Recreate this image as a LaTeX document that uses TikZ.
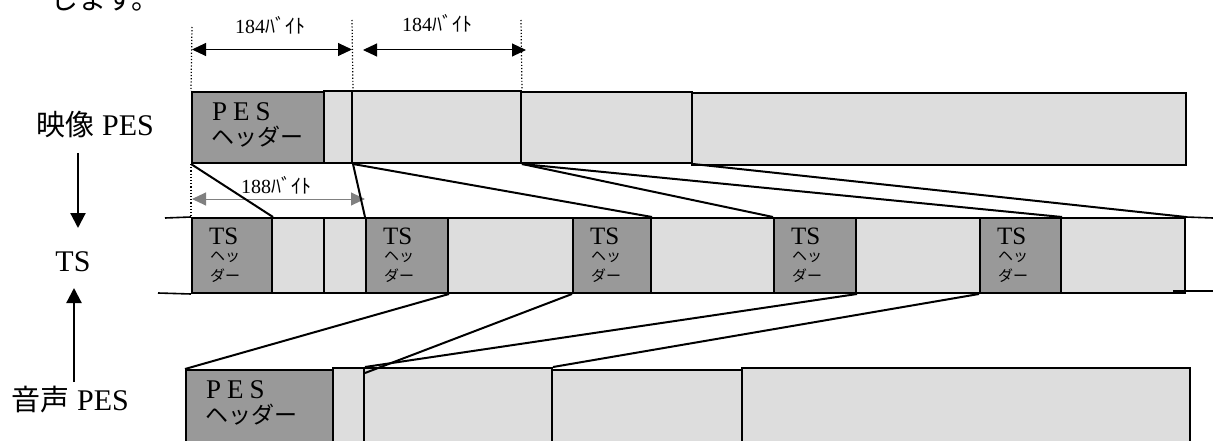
\documentclass[tikz,border=0pt]{standalone}
\usepackage{fontspec}
\setmainfont{Liberation Serif}
\newfontfamily\jp{Noto Sans CJK JP}
\usetikzlibrary{arrows.meta,calc,fit}
\definecolor{hdr}{RGB}{153,153,153}
\definecolor{pay}{RGB}{221,221,221}
\tikzset{
 bx/.style={draw=black, line width=2pt, inner sep=0pt},
 hdrbox/.style={bx, fill=hdr},
 paybox/.style={bx, fill=pay},
 map/.style={line width=2pt},
 dimline/.style={line width=1pt, {Triangle[length=14pt,width=13pt]}-{Triangle[length=14pt,width=13pt]}},
 guide/.style={dotted, line width=1.2pt},
 varrow/.style={line width=2.2pt, -{Triangle[length=15pt,width=15pt]}},
 lbl/.style={font=\fontsize{30}{34}\selectfont, inner sep=0pt},
 dimlbl/.style={font=\fontsize{20}{22}\selectfont, inner sep=0pt},
 intxt/.style={inner sep=0pt, anchor=west},
}
\newcommand\mkbox[6]{\node[#1, fit={(#3,#4)(#5,#6)}] (#2) {};}
\newcommand\tstext[1]{%
 \node[intxt, font=\fontsize{25}{25}\selectfont] at ($(#1.west)+(18,-19.5)$) {TS};
 \node[intxt, font=\jp\fontsize{15}{15}\selectfont] at ($(#1.west)+(19,2)$) {ヘッ};
 \node[intxt, font=\jp\fontsize{15}{15}\selectfont] at ($(#1.west)+(19,20.5)$) {ダー};}
\newcommand\pestext[1]{%
 \node[intxt, font=\fontsize{27}{27}\selectfont] at ($(#1.north west)+(21,21)$) {P\kern6pt E\kern6pt S};
 \node[intxt, font=\jp\fontsize{23}{23}\selectfont] at ($(#1.north west)+(20,46)$) {ヘッダー};}
\begin{document}
\begin{tikzpicture}[x=1pt,y=-1pt]
\useasboundingbox (0,0) rectangle (1213,441);
\clip (0,0) rectangle (1213,441);
% top text
\node[anchor=base west, inner sep=0pt, font=\jp\fontsize{28}{28}\selectfont] (top) at (50,10) {します。};
% video PES
\mkbox{hdrbox}{vh}{192}{92}{324}{163}
\mkbox{paybox}{v2}{324}{91}{352}{163}
\mkbox{paybox}{v3}{352}{91}{521}{163}
\mkbox{paybox}{v4}{521}{92}{692}{163}
\mkbox{paybox}{v5}{692}{93}{1186}{165}
\pestext{vh}
% TS row
\mkbox{hdrbox}{t1h}{192}{218}{272}{293}
\mkbox{paybox}{t1a}{272}{218}{324}{293}
\mkbox{paybox}{t1b}{324}{218}{366}{293}
\mkbox{hdrbox}{t2h}{366}{218}{448}{293}
\mkbox{paybox}{t2p}{448}{218}{573}{293}
\mkbox{hdrbox}{t3h}{573}{218}{651}{293}
\mkbox{paybox}{t3p}{651}{218}{774}{293}
\mkbox{hdrbox}{t4h}{774}{218}{856}{293}
\mkbox{paybox}{t4p}{856}{218}{980}{293}
\mkbox{hdrbox}{t5h}{980}{218}{1061}{293}
\mkbox{paybox}{t5p}{1061}{218}{1185}{293}
\tstext{t1h}\tstext{t2h}\tstext{t3h}\tstext{t4h}\tstext{t5h}
\coordinate (tsTL) at (165,218);
\coordinate (tsBL) at (158,293);
\coordinate (tsTR) at (1213,218);
\coordinate (tsBRa) at (1173,291);
\coordinate (tsBRb) at (1213,291);
\draw[line width=1.6pt] (tsTL) -- (t1h.north west);
\draw[line width=1.6pt] (tsBL) -- (t1h.south west);
\draw[line width=1.6pt] (t5p.north east) -- (tsTR);
\draw[line width=1.6pt] (tsBRa) -- (tsBRb);
% audio PES
\mkbox{hdrbox}{ah}{186}{370}{333}{460}
\mkbox{paybox}{a2}{333}{368}{364}{460}
\mkbox{paybox}{a3}{364}{368}{552}{460}
\mkbox{paybox}{a4}{552}{370}{742}{460}
\mkbox{paybox}{a5}{742}{368}{1190}{460}
\pestext{ah}
% left labels
\node[lbl] (vidlbl) at (95,125) {{\jp\fontsize{29}{29}\selectfont 映像}\hspace{8pt}PES};
\node[lbl] (tslbl) at (73,262) {TS};
\node[lbl] (audlbl) at (70,400) {{\jp\fontsize{29}{29}\selectfont 音声}\hspace{8pt}PES};
\coordinate (dnA) at (78,153);
\coordinate (dnB) at (78,228);
\coordinate (upA) at (74,382);
\coordinate (upB) at (74,288);
\draw[varrow] (dnA) -- (dnB);
\draw[varrow] (upA) -- (upB);
% dimensions
\coordinate (g1) at (192,27);
\coordinate (g2) at (352,20);
\coordinate (g3) at (521,20);
\draw[guide] (g1) -- (vh.north west);
\draw[guide] (g2) -- (v2.north east);
\draw[guide] (g3) -- (v3.north east);
\draw[guide] (vh.south west) -- (t1h.north west);
\coordinate (d1a) at (192,49.5);
\coordinate (d1b) at (352,49.5);
\coordinate (d2a) at (363,50);
\coordinate (d2b) at (526,50);
\coordinate (d3a) at (192,199);
\coordinate (d3b) at (365,199);
\draw[dimline] (d1a) -- (d1b);
\draw[dimline] (d2a) -- (d2b);
\draw[dimline, draw=black!50, fill=black] (d3a) -- (d3b);
\node[dimlbl] (l1) at (270,25) {184{\jp ﾊﾞｲﾄ}};
\node[dimlbl] (l2) at (437,23) {184{\jp ﾊﾞｲﾄ}};
\node[dimlbl] (l3) at (276,185) {188{\jp ﾊﾞｲﾄ}};
% mapping video -> TS
\draw[map] (vh.south west) -- (t1h.north east);
\draw[map] (v2.south east) -- (t2h.north west);
\draw[map] (v2.south east) -- (t3h.north east);
\draw[map] (v3.south east) -- (t4h.north west);
\draw[map] (v3.south east) -- (t5h.north east);
\draw[map] (v4.south east) -- (t5p.north east);
% mapping TS -> audio
\draw[map] (ah.north west) -- (t2h.south east);
\draw[map] ($(a2.north east)+(0,6)$) -- (t3h.south west);
\draw[map] (a2.north east) -- (t4h.south east);
\draw[map] (a3.north east) -- (t5h.south west);
\end{tikzpicture}
\end{document}
